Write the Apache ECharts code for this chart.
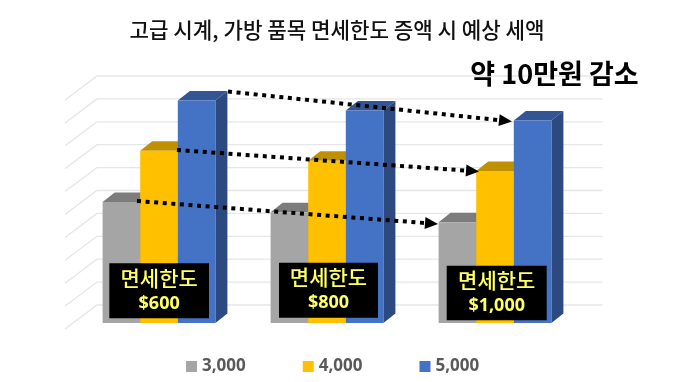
<!DOCTYPE html>
<html><head><meta charset="utf-8">
<style>html,body{margin:0;padding:0;background:#fff}#c{width:679px;height:382px}</style>
<script src="https://cdn.jsdelivr.net/npm/echarts@6/dist/echarts.min.js"></script>
</head><body><div id="c"></div>
<script>
const categories = ['$600', '$800', '$1,000'];
const seriesNames = ['3,000', '4,000', '5,000'];
const values3000 = [132, 121, 110];
const values4000 = [188, 177, 166];
const values5000 = [243, 232, 221];
const wallTicks = [0, 25, 50, 75, 100, 125, 150, 175, 200, 225, 250];
const boxLabel = '면세한도';
const titleText = '고급 시계, 가방 품목 면세한도 증액 시 예상 세액';
const noteText = '약 10만원 감소';

const KR = '"Noto Sans CJK KR","Noto Sans",sans-serif';
const palette = [
  {front:'#A5A5A5', top:'#7C7C7C', side:'#636363'},
  {front:'#FFC000', top:'#BF9000', side:'#997300'},
  {front:'#4472C4', top:'#335593', side:'#2C4A80'}
];

function barRender(si){
  return function(params, api){
    const i = api.value(0), v = api.value(1);
    const band = api.size([1,0])[0];
    const c0 = api.coord([i,0]), c1 = api.coord([i,v]);
    const bw = band*0.2238;
    const x = c0[0] - bw*1.5 + si*bw, y0 = c0[1], y1 = c1[1];
    const dx = 12, dy = 9.5, p = palette[si];
    return {type:'group', children:[
      {type:'polygon', shape:{points:[[x,y1],[x+dx,y1-dy],[x+bw+dx,y1-dy],[x+bw,y1]]}, style:{fill:p.top}},
      {type:'polygon', shape:{points:[[x+bw,y1],[x+bw+dx,y1-dy],[x+bw+dx,y0-dy],[x+bw,y0]]}, style:{fill:p.side}},
      {type:'rect', shape:{x:x,y:y1,width:bw,height:y0-y1}, style:{fill:p.front}}
    ]};
  };
}
function barSeries(si, vals){
  return {
    name: seriesNames[si], type:'custom', xAxisIndex:0, yAxisIndex:0, z:3+si,
    itemStyle:{color:palette[si].front}, encode:{x:0,y:1},
    renderItem: barRender(si),
    data: vals.map((v,i)=>[i,v])
  };
}
const wallSeries = {
  type:'custom', xAxisIndex:1, yAxisIndex:1, z:1, silent:true, legendHoverLink:false,
  encode:{y:0},
  renderItem:function(params, api){
    const a = api.coord([0, api.value(0)]), b = api.coord([1, api.value(0)]);
    return {type:'polyline', shape:{points:[[a[0]-32,a[1]+24],a,b]},
      style:{fill:'none', stroke:'#E6E6E6', lineWidth:1.3}};
  },
  data: wallTicks.map(v=>[v])
};

function arrow(x1,y1,x2,y2){
  const ang = Math.atan2(y2-y1,x2-x1), L = 13, H = 6;
  const bx = x2-L*Math.cos(ang), by = y2-L*Math.sin(ang);
  const nx = -Math.sin(ang), ny = Math.cos(ang);
  return [
    {type:'line', z:20, shape:{x1:x1,y1:y1,x2:bx,y2:by},
      style:{stroke:'#000', lineWidth:4, lineDash:[4,4.6]}},
    {type:'polygon', z:20, shape:{points:[[x2,y2],[bx+nx*H,by+ny*H],[bx-nx*H,by-ny*H]]}, style:{fill:'#000'}}
  ];
}
function box(x,y,w,h,label){
  return [
    {type:'rect', z:30, shape:{x:x,y:y,width:w,height:h}, style:{fill:'#000'}},
    {type:'text', z:31, x:x+w/2, y:y+14.5, style:{text:boxLabel, fill:'#FFFF66', font:'500 21px '+KR, textAlign:'center', textVerticalAlign:'middle'}},
    {type:'text', z:31, x:x+w/2, y:y+40.5, style:{text:label, fill:'#FFFF66', font:'700 18px "Noto Sans",sans-serif', textAlign:'center', textVerticalAlign:'middle'}}
  ];
}

const chart = echarts.init(document.getElementById('c'), null, {renderer:'canvas'});
chart.setOption({
  backgroundColor:'#fff',
  animation:false,
  title:[
    {text:titleText, left:332, top:14, textAlign:'center',
     textStyle:{fontFamily:KR, fontSize:21.2, fontWeight:500, color:'#111'}},
    {text:noteText, left:549.5, top:55, textAlign:'center',
     textStyle:{fontFamily:KR, fontSize:27, fontWeight:700, color:'#000'}}
  ],
  legend:{
    left:181, top:353, itemWidth:11, itemHeight:11, itemGap:57, icon:'rect',
    data:seriesNames,
    textStyle:{fontFamily:'"Noto Sans",sans-serif', fontSize:17, fontWeight:700, color:'#595959'}
  },
  grid:[
    {left:75, top:94, width:504, height:229},
    {left:97, top:76, width:505.5, height:229}
  ],
  xAxis:[
    {type:'category', gridIndex:0, data:categories, show:false},
    {type:'value', gridIndex:1, min:0, max:1, show:false}
  ],
  yAxis:[
    {type:'value', gridIndex:0, min:0, max:250, interval:25, show:false},
    {type:'value', gridIndex:1, min:0, max:250, interval:25, show:false}
  ],
  series:[wallSeries, barSeries(0,values3000), barSeries(1,values4000), barSeries(2,values5000)],
  graphic:[].concat(
    arrow(228,91.5,512,121.5),
    arrow(177,150,479,171.5),
    arrow(137,201,438,224),
    box(109.3,263.3,99.7,55,categories[0]),
    box(279,262.7,99,55,categories[1]),
    box(446.7,265.7,100,54.5,categories[2])
  )
});
</script></body></html>
